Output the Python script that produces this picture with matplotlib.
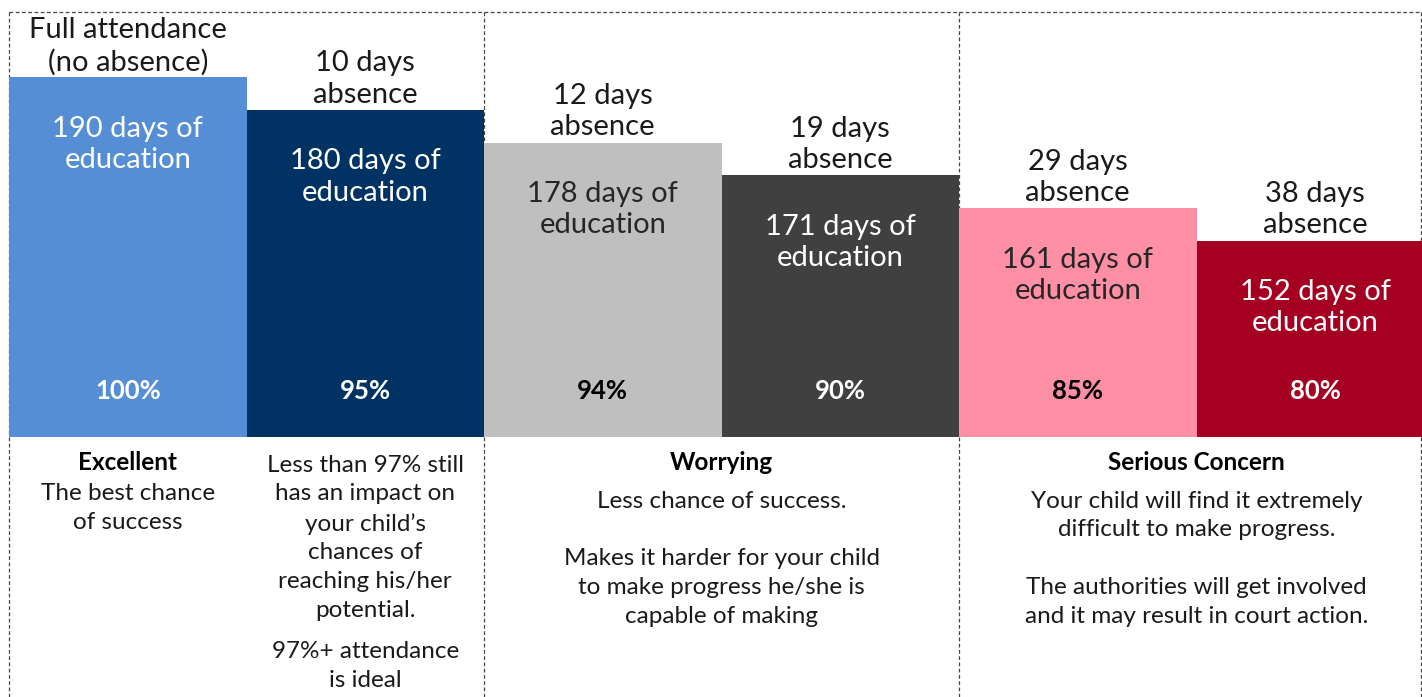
import matplotlib
matplotlib.use("Agg")
import matplotlib.pyplot as plt

plt.rcParams['font.family'] = ['Lato', 'DejaVu Sans']

# ---- data ----
absence_labels = ["Full attendance\n(no absence)", "10 days\nabsence", "12 days\nabsence",
                  "19 days\nabsence", "29 days\nabsence", "38 days\nabsence"]
education_days = [190, 180, 178, 171, 161, 152]
attendance_pct = [100, 95, 94, 90, 85, 80]
bar_levels = [11, 10, 9, 8, 7, 6]          # stepped display height of each bar
bar_colors = ["#558ED5", "#003263", "#BFBFBF", "#404040", "#FF8FA5", "#A50021"]
inner_colors = ["white", "white", "#262626", "white", "#262626", "white"]
pct_colors = ["white", "white", "black", "white", "black", "white"]

groups = [
    {"pos": 0.0, "title": "Excellent", "text": "The best chance\nof success"},
    {"pos": 1.0, "title": None,
     "text": "Less than 97% still\nhas an impact on\nyour child\u2019s\nchances of\nreaching his/her\npotential.",
     "extra": "97%+ attendance\nis ideal"},
    {"pos": 2.5, "title": "Worrying",
     "text": "Less chance of success.\n\nMakes it harder for your child\nto make progress he/she is\ncapable of making"},
    {"pos": 4.5, "title": "Serious Concern",
     "text": "Your child will find it extremely\ndifficult to make progress.\n\nThe authorities will get involved\nand it may result in court action."},
]

# ---- layout ----
W, H = 1422, 697
fig = plt.figure(figsize=(W / 100, H / 100), dpi=100)
ax = fig.add_axes([0, 0, 1, 1])
BAR_W_PX = 237.5
LEFT_PX = 9
BASE_PX = 437
UNIT = 32.7  # px per level

def py(p):  # pixel row -> data y
    return (BASE_PX - p) / UNIT

ax.set_xlim(-0.5 - LEFT_PX / BAR_W_PX, -0.5 + (W - LEFT_PX) / BAR_W_PX)
ax.set_ylim(py(H), py(0))
ax.axis('off')

x = list(range(len(bar_levels)))
ax.bar(x, bar_levels, width=1.0, color=bar_colors, zorder=2, linewidth=0)

# dashed frame lines
dash = dict(color="#444444", lw=0.9, ls=(0, (3, 2)), zorder=1)
ax.plot([-0.5, 5.6], [py(12), py(12)], **dash)
for xv in [-0.5, 1.5, 3.5]:
    ax.plot([xv, xv], [py(12), py(H + 5)], **dash)
ax.plot([-0.5 + (W - 1 - LEFT_PX) / BAR_W_PX] * 2, [py(12), py(H + 5)], **dash)

top_fs = 21
bot_fs = 17.5
for i in x:
    lvl = bar_levels[i]
    ax.text(i, lvl + 31 / UNIT, absence_labels[i], ha='center', va='center',
            fontsize=top_fs, color="#1a1a1a", linespacing=1.245, zorder=3)
    ax.text(i, lvl - 67 / UNIT, f"{education_days[i]} days of\neducation", ha='center',
            va='center', fontsize=top_fs, color=inner_colors[i], linespacing=1.245, zorder=3)
    ax.text(i, py(391), f"{attendance_pct[i]}%", ha='center', va='center',
            fontsize=18.5, fontweight='bold', color=pct_colors[i], zorder=3)

for g in groups:
    if g["title"]:
        ax.text(g["pos"], py(463), g["title"], ha='center', va='center',
                fontsize=bot_fs, fontweight='bold', color="black")
        first = 493 if g["pos"] == 0 else 500
    else:
        first = 464
    ax.text(g["pos"], py(first - 9.5), g["text"], ha='center', va='top',
            fontsize=bot_fs, color="#1a1a1a", linespacing=1.465)
    if "extra" in g:
        ax.text(g["pos"], py(651 - 9.5), g["extra"], ha='center', va='top',
                fontsize=bot_fs, color="#1a1a1a", linespacing=1.465)

fig.savefig("out.png", dpi=100)
